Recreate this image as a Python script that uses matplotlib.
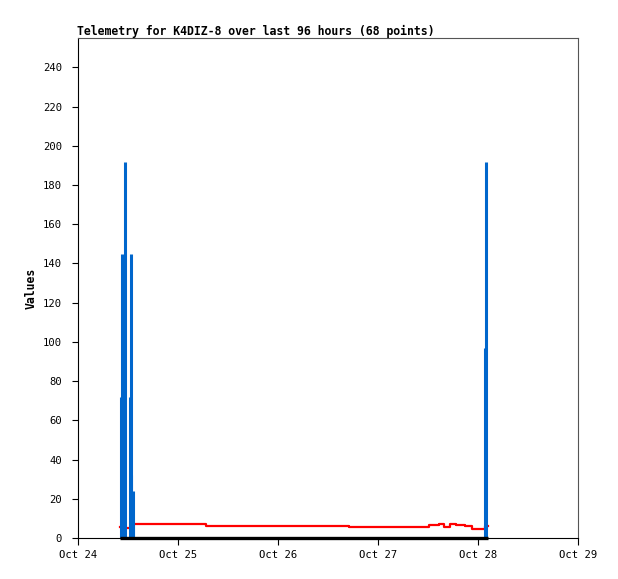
import matplotlib
matplotlib.use("Agg")
import matplotlib.pyplot as plt
import matplotlib.dates as mdates
from datetime import datetime

# blue impulse series
spike_times = ["2024-10-24 10:12", "2024-10-24 10:34", "2024-10-24 11:10",
               "2024-10-24 12:22", "2024-10-24 12:36", "2024-10-24 12:50",
               "2024-10-24 13:05", "2024-10-24 13:19",
               "2024-10-28 01:41", "2024-10-28 02:02"]
spike_values = [72, 145, 192, 72, 145, 32, 24, 8, 97, 192]

# red step series
red_times = ["2024-10-24 10:05", "2024-10-24 10:48", "2024-10-24 13:12",
             "2024-10-25 06:39", "2024-10-26 17:02", "2024-10-27 12:14",
             "2024-10-27 14:38", "2024-10-27 15:50", "2024-10-27 17:17",
             "2024-10-27 18:43", "2024-10-27 20:53", "2024-10-27 22:34",
             "2024-10-28 01:41", "2024-10-28 02:24"]
red_values = [5.8, 5.0, 7.0, 6.3, 5.8, 6.5, 7.0, 5.8, 7.0, 6.5, 6.1, 4.8, 6.0, 6.0]

# black zero series
zero_times = ["2024-10-24 10:05", "2024-10-28 02:24"]
zero_values = [0, 0]

x_ticks = ["2024-10-24", "2024-10-25", "2024-10-26", "2024-10-27", "2024-10-28", "2024-10-29"]
y_ticks = list(range(0, 260, 20))

title = "Telemetry for K4DIZ-8 over last 96 hours (68 points)"


def to_dt(values, fmt="%Y-%m-%d %H:%M"):
    return [datetime.strptime(v, fmt) for v in values]


mono = "DejaVu Sans Mono"
fig = plt.figure(figsize=(6.18, 5.79), dpi=100)
ax = fig.add_axes([78 / 618, 41 / 579, 500 / 618, 500 / 579])

ax.plot(to_dt(red_times), red_values, color="#ff0000", lw=1.6,
        drawstyle="steps-post", zorder=2)
ax.vlines(to_dt(spike_times), 0, spike_values, color="#0066cc", lw=2.2, zorder=3)
ax.plot(to_dt(zero_times), zero_values, color="black", lw=2.4, zorder=4,
        solid_capstyle="butt", clip_on=False)

ticks = to_dt(x_ticks, "%Y-%m-%d")
ax.set_xlim(ticks[0], ticks[-1])
ax.set_ylim(0, 255)
ax.set_xticks(ticks)
ax.xaxis.set_major_formatter(mdates.DateFormatter("%b %d"))
ax.set_yticks(y_ticks)

ax.tick_params(axis="y", direction="out", length=4.5, width=0.8, pad=7,
               labelsize=7.6, colors="black")
ax.tick_params(axis="x", direction="out", length=5, width=0.8, pad=4,
               labelsize=7.6, colors="black")
for lab in ax.get_xticklabels() + ax.get_yticklabels():
    lab.set_fontfamily(mono)

for side in ["left", "bottom"]:
    ax.spines[side].set_color("black")
    ax.spines[side].set_linewidth(0.8)
for side in ["top", "right"]:
    ax.spines[side].set_color("#555555")
    ax.spines[side].set_linewidth(0.8)

fig.text(77 / 618, 1 - 31 / 579, title, fontfamily=mono, fontweight="bold",
         fontsize=8.3, ha="left", va="center")
ax.set_ylabel("Values", fontfamily=mono, fontweight="bold", fontsize=8.3,
              labelpad=4)

fig.savefig("out.png", dpi=100)
